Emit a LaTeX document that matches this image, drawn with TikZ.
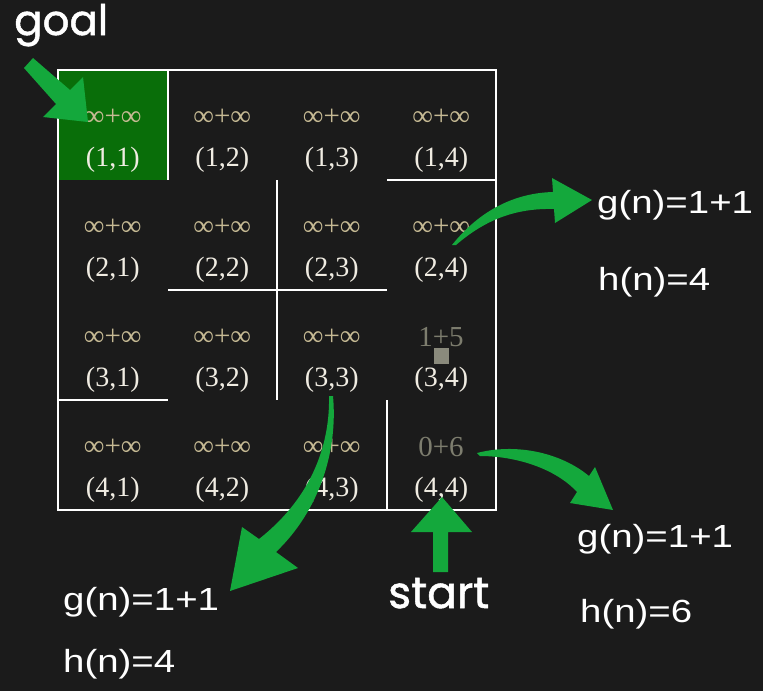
\documentclass[tikz,border=0pt]{standalone}
\usepackage{fontspec}
\setmainfont{Liberation Serif}
\newfontfamily\lblfont[FakeStretch=1.2]{Liberation Sans}
\newfontfamily\tagfont[FakeBold=1.2]{Poppins}
\definecolor{bgdark}{RGB}{27,27,27}
\definecolor{goalgreen}{RGB}{9,110,9}
\definecolor{arrowgreen}{RGB}{20,168,60}
\definecolor{valtan}{RGB}{198,186,148}
\definecolor{valgrey}{RGB}{125,125,110}
\definecolor{postext}{RGB}{240,236,226}
\tikzset{
  wall/.style={draw=white, line width=2.4pt},
  cellval/.style={text=valtan, font=\fontsize{29}{31}\selectfont, inner sep=0pt},
  cellpos/.style={text=postext, font=\fontsize{28}{30}\selectfont, inner sep=0pt},
  infolbl/.style={text=white, font=\lblfont\fontsize{32}{34}\selectfont, anchor=base west, inner sep=0pt},
  taglbl/.style={text=white, font=\tagfont\fontsize{42}{44}\selectfont, anchor=base west, inner sep=0pt},
  bigarrow/.style={fill=arrowgreen, draw=none}
}
\begin{document}
\begin{tikzpicture}[x=1pt, y=-1pt]
    \useasboundingbox (0,0) rectangle (763,691);
    \fill[bgdark] (0,0) rectangle (763,691);
    % goal cell
    \fill[goalgreen] (58,70) rectangle (168,180);
    % maze walls
    \draw[wall] (58,70) rectangle (496,510);
    \draw[wall] (168,70) -- (168,180);
    \draw[wall] (387,180) -- (496,180);
    \draw[wall] (277,180) -- (277,400);
    \draw[wall] (168,290) -- (387,290);
    \draw[wall] (58,400) -- (168,400);
    \draw[wall] (387,400) -- (387,510);
    % cell labels
    \foreach \r in {1,...,4}
        \foreach \c in {1,...,4}
            \node[cellpos] (p\r\c) at ({58+109.5*(\c-0.5)},{70+110*(\r-1)+90}) {(\r,\c)};
    \foreach \r/\c in {1/1,1/2,1/3,1/4,2/1,2/2,2/3,2/4,3/1,3/2,3/3,4/1,4/2,4/3}
        \node[cellval] (v\r\c) at ({58+109.5*(\c-0.5)},{70+110*(\r-1)+47}) {∞+∞};
    \node[cellval, text=valgrey] (v34) at (441,337) {1+5};
    \node[cellval, text=valgrey] (v44) at (441,447) {0+6};
    \fill[valgrey!90!white] (434,348) rectangle (449,364);
    % text
    \node[taglbl] (goal) at (14,35) {goal};
    \node[taglbl, font=\tagfont\fontsize{44}{46}\selectfont] (start) at (388,608) {start};
    \node[infolbl] (g24) at (597,213) {g(n)=1+1};
    \node[infolbl] (h24) at (598,290) {h(n)=4};
    \node[infolbl] (g44) at (577,547) {g(n)=1+1};
    \node[infolbl] (h44) at (580,622) {h(n)=6};
    \node[infolbl] (g33) at (63,610) {g(n)=1+1};
    \node[infolbl] (h33) at (63,672) {h(n)=4};
    % arrows
    \fill[bigarrow] (33,58) -- (70,90) -- (83,77) -- (88,122) -- (43,117) -- (56,104) -- (24,68) -- cycle;
    \fill[bigarrow] (433,572) -- (433,532) -- (411,532) -- (442,497) -- (472,532) -- (448,532) -- (448,572) -- cycle;
    \fill[bigarrow] (452,245) .. controls (480,210) and (515,193) .. (553,192) -- (552,178) -- (592,200)
        -- (555,223) -- (554,209) .. controls (515,208) and (485,220) .. (456,245) -- cycle;
    \fill[bigarrow] (477,453) .. controls (515,443) and (560,452) .. (589,476) -- (595,467) -- (613,510)
        -- (570,503) -- (577,492) .. controls (555,468) and (515,456) .. (480,456) -- cycle;
    \fill[bigarrow] (329,396) .. controls (330,440) and (315,495) .. (259,539) -- (242,527) -- (230,591)
        -- (298,568) -- (276,552) .. controls (320,510) and (338,450) .. (333,396) -- cycle;
\end{tikzpicture}
\end{document}
